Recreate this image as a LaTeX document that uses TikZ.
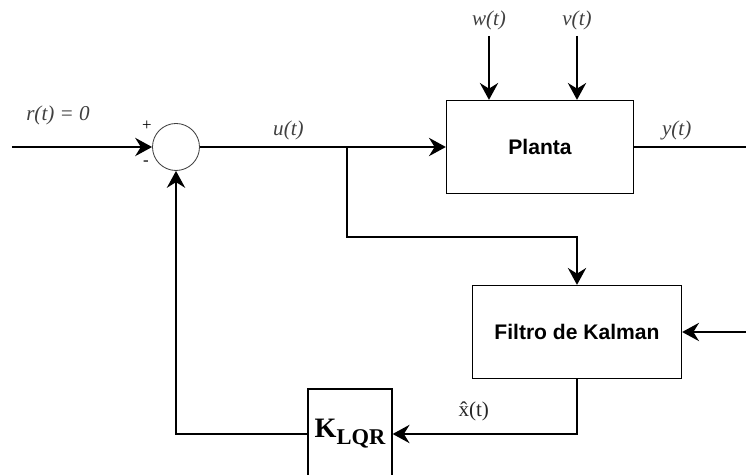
\documentclass[tikz,border=0pt]{standalone}
\usepackage{fontspec}
\setmainfont{Liberation Serif}
\setsansfont{Liberation Sans}
\usepackage{xcolor}
\usepackage{tikz}
\usetikzlibrary{
  positioning,
  arrows.meta
}
\tikzset{
  >=Stealth,
  flowarrow/.style={-{Stealth[length=12pt,width=13pt,inset=4pt]},line width=1.4pt},
  flowline/.style={line width=1.4pt},
  sumnode/.style={circle,draw=black!75,line width=0.6pt,minimum size=1.175cm,inner sep=0pt},
  block/.style={rectangle,draw,line width=0.9pt,minimum width=4.675cm,minimum height=2.325cm,align=center,font=\sffamily\bfseries\fontsize{15}{18}\selectfont},
  gainblock/.style={rectangle,draw,line width=0.9pt,minimum width=2.1cm,minimum height=2.25cm,inner sep=0pt},
  siglabel/.style={text=black!75,font=\itshape\fontsize{15}{18}\selectfont,inner sep=1pt},
  signlabel/.style={font=\fontsize{12}{14}\selectfont,inner sep=0pt}
}

\begin{document}
\begin{tikzpicture}[node distance=2cm, on grid, auto]
    \useasboundingbox (-4.4,-8.2) rectangle (14.25,3.675);

    \node[sumnode] (sum) {};
    \node[block,right=9.1cm of sum] (planta) {Planta};
    \node[block,minimum width=5.225cm,below right=4.625cm and 0.925cm of planta] (kalman) {Filtro de Kalman};
    \node[gainblock,below left=2.55cm and 5.675cm of kalman] (klqr) {\raisebox{-4pt}{\bfseries{\fontsize{20}{22}\selectfont K}\raisebox{-5pt}{\fontsize{16}{18}\selectfont LQR}}};

    \coordinate[left=4.1cm of sum] (rin);
    \coordinate[right=4.275cm of sum] (branch);
    \coordinate[below=2.25cm of branch] (branchdown);
    \coordinate[right=5.15cm of planta] (yout);
    \coordinate[above left=2.775cm and 1.275cm of planta] (win);
    \coordinate[above right=2.775cm and 0.925cm of planta] (vin);
    \coordinate[right=4.225cm of kalman] (kin);

    \node[siglabel,above left=0.8cm and 2.95cm of sum] (rlab) {r(t) = 0};
    \node[siglabel] (wlab) at ([yshift=0.4cm]win) {w(t)};
    \node[siglabel] (vlab) at ([yshift=0.4cm]vin) {v(t)};
    \node[signlabel,above left=0.525cm and 0.725cm of sum] (plus) {+};
    \node[signlabel,below left=0.4cm and 0.75cm of sum] (minus) {-};

    \draw[flowarrow] (rin) -- (sum);
    \draw[flowarrow] (sum) -- node[siglabel,pos=0.36,above=3pt]{u(t)} (planta);
    \draw[flowarrow] (branch) -- (branchdown) -| (kalman);
    \draw[flowline] (planta) -- node[siglabel,pos=0.38,above=3pt]{y(t)} (yout);
    \draw[flowarrow] (win) -- (win |- planta.north);
    \draw[flowarrow] (vin) -- (vin |- planta.north);
    \draw[flowarrow] (kin) -- (kalman);
    \draw[flowarrow] (kalman) |- node[pos=0.78,above=5pt,text=black!85,font=\fontsize{15}{17}\selectfont]{\^{x}(t)} (klqr);
    \draw[flowarrow] (klqr) -| (sum);
\end{tikzpicture}
\end{document}
